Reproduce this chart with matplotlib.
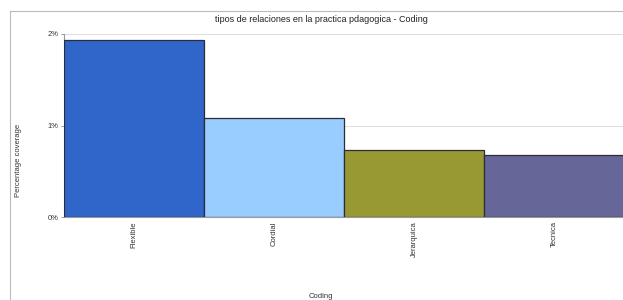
import matplotlib.pyplot as plt
from matplotlib.lines import Line2D

# coverage per code
categories = ['Flexible', 'Cordial', 'Jerarquica', 'Tecnica']
coverage = [1.93, 1.08, 0.73, 0.68]
colors = ['#3066CA', '#99CCFF', '#999933', '#666699']
y_ticks = [0, 1, 2]
y_tick_labels = ['0%', '1%', '2%']

plt.rcParams['font.family'] = ['Liberation Sans', 'DejaVu Sans']

fig = plt.figure(figsize=(6.23, 3.0), dpi=100)
ax = fig.add_axes([64 / 623, 83 / 300, 560 / 623, 183 / 300])

x = range(len(categories))
ax.bar(x, coverage, width=1.0, color=colors, edgecolor='#2b2b3b', linewidth=0.9, zorder=3)

ax.set_xlim(-0.5, len(categories) - 0.5)
ax.set_ylim(0, 2)
ax.set_yticks(y_ticks)
ax.set_yticklabels(y_tick_labels, fontsize=5.5, color='#333333')
ax.set_xticks(list(x))
ax.set_xticklabels(categories, rotation=90, fontsize=5.5, color='#333333', va='top')
ax.tick_params(axis='x', length=0, pad=3)
ax.tick_params(axis='y', length=2, width=0.6, color='#888888', pad=2)

ax.grid(axis='y', color='#dddddd', linewidth=0.7, zorder=0)
for side in ['top', 'right']:
    ax.spines[side].set_visible(False)
for side in ['left', 'bottom']:
    ax.spines[side].set_color('#999999')
    ax.spines[side].set_linewidth(0.8)

ax.set_ylabel('Percentage coverage', fontsize=5.5, color='#333333')
ax.yaxis.set_label_coords(-42 / 560, 0.31)
fig.text(321 / 623, 1 - 296 / 300, 'Coding', fontsize=5.5, color='#333333', ha='center', va='center')
fig.text(321 / 623, 1 - 20 / 300, 'tipos de relaciones en la practica pdagogica - Coding',
         fontsize=6.5, color='#222222', ha='center', va='center')

# outer frame of the original chart panel
fig.add_artist(Line2D([10 / 623, 10 / 623], [0, 1 - 11 / 300], color='#bbbbbb', linewidth=0.8))
fig.add_artist(Line2D([10 / 623, 1], [1 - 11 / 300, 1 - 11 / 300], color='#bbbbbb', linewidth=0.8))

fig.savefig('out.png', dpi=100)
